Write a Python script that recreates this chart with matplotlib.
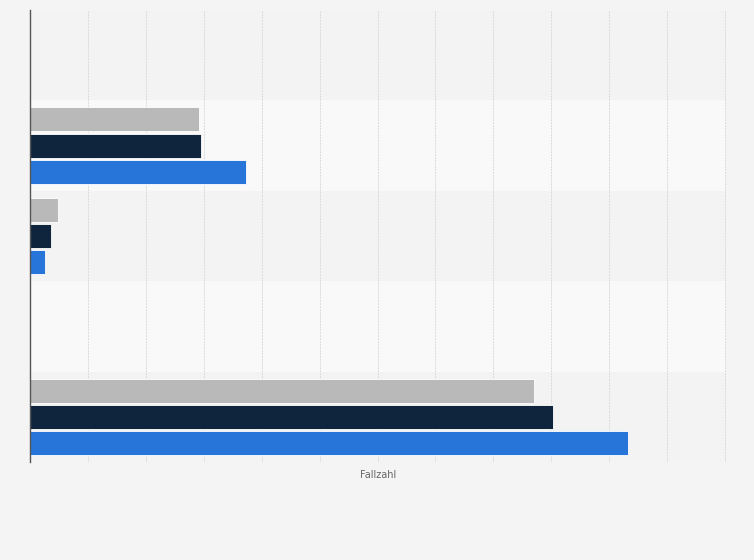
#!/usr/bin/env python3
import numpy as np
from matplotlib import pyplot as plt

# five categories, three series (no labels shown in the picture)
categories = ["A", "B", "C", "D", "E"]
series_gray = [0, 292, 48, 0, 870]
series_navy = [0, 295, 36, 0, 903]
series_blue = [0, 373, 26, 0, 1033]
x_ticks = list(range(0, 1201, 100))

colors = ["#b9b9b9", "#0f253d", "#2775d9"]
band_colors = ["#f3f3f3", "#f9f9f9"]

fig = plt.figure(figsize=(7.54, 5.6), dpi=100)
fig.patch.set_facecolor("#f4f4f4")
ax = fig.add_axes([30 / 754, 1 - 462 / 560, 696 / 754, 452 / 560])
ax.set_facecolor("#f4f4f4")

y = np.arange(len(categories))
for i in y:
    ax.axhspan(i - 0.5, i + 0.5, color=band_colors[i % 2], zorder=0, lw=0)

h = 0.265
for k, vals in enumerate([series_gray, series_navy, series_blue]):
    ax.barh(y + (k - 1) * 0.29, vals, height=h, color=colors[k],
            edgecolor="white", linewidth=0.6, zorder=3)

ax.set_ylim(len(categories) - 0.5, -0.5)
ax.set_xlim(0, 1201.5)
ax.set_xticks(x_ticks)
ax.set_xticklabels([])
ax.set_yticks([])
ax.tick_params(axis="x", length=0)
ax.grid(axis="x", color="#dadada", linestyle=(0, (2, 1)), linewidth=0.7, zorder=1)

for s in ["top", "right", "bottom"]:
    ax.spines[s].set_visible(False)
ax.spines["left"].set_color("#555555")
ax.spines["left"].set_linewidth(1.0)
ax.spines["left"].set_zorder(4)

ax.set_xlabel("Fallzahl", fontsize=7, color="#666666", labelpad=2)

fig.savefig("out.png", dpi=100, facecolor=fig.get_facecolor())
